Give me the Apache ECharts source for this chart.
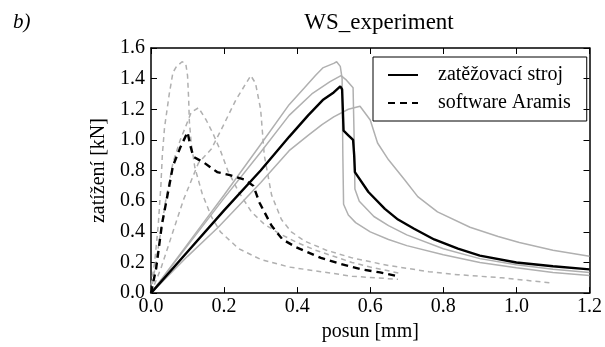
<!DOCTYPE html>
<html>
<head>
<meta charset="utf-8">
<script src="https://cdn.jsdelivr.net/npm/echarts@6/dist/echarts.min.js"></script>
<style>
  html, body { margin: 0; padding: 0; background: #fff; }
  #chart { width: 605px; height: 347px; }
</style>
</head>
<body>
<div id="chart"></div>
<script>
// x ticks / y ticks
const xTicks = [0, 0.2, 0.4, 0.6, 0.8, 1.0, 1.2];
const yTicks = [0, 0.2, 0.4, 0.6, 0.8, 1.0, 1.2, 1.4, 1.6];

// zatezovaci stroj (black solid) - [posun, zatizeni]
const stroj = [[0,0],[0.1,0.27],[0.2,0.54],[0.3,0.8],[0.378,1.02],[0.43,1.16],[0.47,1.26],[0.5,1.31],[0.518,1.35],[0.523,1.33],[0.527,1.06],[0.54,1.03],[0.553,1.0],[0.556,0.9],[0.558,0.79],[0.595,0.66],[0.64,0.55],[0.676,0.48],[0.72,0.42],[0.775,0.35],[0.84,0.29],[0.9,0.245],[1.0,0.2],[1.1,0.175],[1.2,0.155]];

// other test machine runs (gray solid)
const run1 = [[0,0],[0.1,0.32],[0.2,0.64],[0.3,0.97],[0.378,1.23],[0.42,1.34],[0.45,1.42],[0.47,1.47],[0.5,1.5],[0.508,1.51],[0.518,1.48],[0.523,1.4],[0.525,0.9],[0.527,0.58],[0.54,0.51],[0.56,0.46],[0.6,0.4],[0.65,0.35],[0.7,0.31],[0.8,0.25],[0.9,0.2],[1.0,0.165],[1.1,0.135],[1.2,0.115]];
const run2 = [[0,0],[0.1,0.31],[0.2,0.62],[0.3,0.92],[0.378,1.16],[0.44,1.3],[0.49,1.38],[0.52,1.42],[0.535,1.39],[0.553,1.34],[0.556,1.0],[0.558,0.68],[0.57,0.6],[0.61,0.5],[0.65,0.44],[0.7,0.38],[0.8,0.29],[0.9,0.225],[1.0,0.185],[1.1,0.155],[1.2,0.135]];
const run3 = [[0,0],[0.1,0.24],[0.184,0.43],[0.3,0.72],[0.378,0.93],[0.43,1.03],[0.468,1.1],[0.5,1.15],[0.54,1.2],[0.572,1.22],[0.6,1.13],[0.62,0.98],[0.65,0.87],[0.694,0.74],[0.73,0.63],[0.784,0.53],[0.873,0.43],[0.95,0.37],[1.008,0.33],[1.1,0.28],[1.2,0.24]];

// software Aramis (black dashed)
const aramis = [[0,0],[0.014,0.16],[0.03,0.45],[0.05,0.7],[0.06,0.83],[0.08,0.95],[0.1,1.05],[0.108,0.96],[0.116,0.89],[0.146,0.85],[0.181,0.79],[0.216,0.77],[0.257,0.74],[0.28,0.7],[0.297,0.59],[0.33,0.44],[0.36,0.35],[0.397,0.3],[0.465,0.23],[0.52,0.19],[0.576,0.155],[0.627,0.135],[0.676,0.11]];

// other Aramis evaluations (gray dashed)
const dic1 = [[0,0.05],[0.01,0.2],[0.02,0.45],[0.027,0.7],[0.031,0.9],[0.037,1.08],[0.05,1.3],[0.06,1.44],[0.07,1.48],[0.085,1.51],[0.095,1.5],[0.1,1.42],[0.103,1.27],[0.105,1.12],[0.11,0.98],[0.12,0.82],[0.14,0.65],[0.165,0.5],[0.19,0.4],[0.24,0.29],[0.3,0.22],[0.378,0.17],[0.465,0.14],[0.55,0.11],[0.676,0.09]];
const dic2 = [[0,0],[0.02,0.3],[0.04,0.6],[0.06,0.85],[0.08,1.0],[0.092,1.07],[0.11,1.18],[0.13,1.21],[0.151,1.13],[0.17,1.04],[0.19,0.93],[0.21,0.8],[0.24,0.66],[0.275,0.53],[0.31,0.45],[0.35,0.39],[0.4,0.33],[0.45,0.28],[0.5,0.24],[0.55,0.2],[0.6,0.17],[0.68,0.13]];
const dic3 = [[0,0],[0.027,0.16],[0.06,0.4],[0.089,0.61],[0.13,0.85],[0.165,0.94],[0.197,1.09],[0.232,1.26],[0.273,1.42],[0.286,1.37],[0.3,1.2],[0.305,1.05],[0.31,0.9],[0.33,0.64],[0.357,0.48],[0.384,0.4],[0.42,0.34],[0.48,0.28],[0.55,0.23],[0.65,0.18],[0.76,0.14],[0.84,0.12],[0.96,0.1],[1.1,0.065]];

const font = 'Liberation Serif';
const gray = '#b0b0b0';

const chart = echarts.init(document.getElementById('chart'));

function axisStyle() {
  return {
    axisLine: { show: true, onZero: false, lineStyle: { color: '#000', width: 1.5 } },
    axisTick: { show: true, inside: true, length: 6, lineStyle: { color: '#000', width: 1 } },
    splitLine: { show: false }
  };
}

function line(name, data, color, width, type) {
  return {
    name: name, type: 'line', data: data, showSymbol: false, symbol: 'none',
    silent: true, animation: false,
    itemStyle: { color: color },
    lineStyle: { color: color, width: width, type: type }
  };
}

chart.setOption({
  animation: false,
  title: {
    text: 'WS_experiment', left: 374, top: 6, textAlign: 'center',
    textStyle: { fontFamily: font, fontWeight: 'normal', fontSize: 23, color: '#000' }
  },
  graphic: [{
    type: 'text', left: 13, top: 12,
    style: { text: 'b)', font: 'italic 21px "Liberation Serif"', fill: '#000' }
  }],
  legend: {
    data: ['zatěžovací stroj', 'software Aramis'],
    orient: 'vertical', left: 373, top: 57,
    borderColor: '#000', borderWidth: 1, borderRadius: 0,
    padding: [8, 16, 8, 14], itemGap: 8,
    itemWidth: 30, itemHeight: 14,
    itemStyle: { opacity: 0 },
    textStyle: { fontFamily: font, fontSize: 20, color: '#000', padding: [0, 0, 0, 15] }
  },
  grid: { left: 151, right: 11, top: 48, bottom: 53 },
  xAxis: [
    Object.assign(axisStyle(), {
      type: 'value', min: 0, max: 1.2, interval: 0.2,
      name: 'posun [mm]', nameLocation: 'middle', nameGap: 27,
      nameTextStyle: { fontFamily: font, fontSize: 20, color: '#000' },
      axisLabel: { fontFamily: font, fontSize: 20, color: '#000', margin: 4,
        formatter: v => v.toFixed(1), customValues: xTicks }
    }),
    Object.assign(axisStyle(), {
      type: 'value', min: 0, max: 1.2, interval: 0.2, position: 'top',
      axisLabel: { show: false }
    })
  ],
  yAxis: [
    Object.assign(axisStyle(), {
      type: 'value', min: 0, max: 1.6, interval: 0.2,
      name: 'zatížení [kN]', nameLocation: 'middle', nameGap: 40,
      nameTextStyle: { fontFamily: font, fontSize: 20, color: '#000' },
      axisLabel: { fontFamily: font, fontSize: 20, color: '#000', margin: 6,
        formatter: v => v.toFixed(1), customValues: yTicks }
    }),
    Object.assign(axisStyle(), {
      type: 'value', min: 0, max: 1.6, interval: 0.2, position: 'right',
      axisLabel: { show: false }
    })
  ],
  series: [
    line('run1', run1, gray, 1.5, 'solid'),
    line('run2', run2, gray, 1.5, 'solid'),
    line('run3', run3, gray, 1.5, 'solid'),
    line('dic1', dic1, gray, 1.5, [5, 4]),
    line('dic2', dic2, gray, 1.5, [5, 4]),
    line('dic3', dic3, gray, 1.5, [5, 4]),
    line('zatěžovací stroj', stroj, '#000', 2.4, 'solid'),
    line('software Aramis', aramis, '#000', 2.4, [7, 5])
  ]
});
</script>
</body>
</html>
